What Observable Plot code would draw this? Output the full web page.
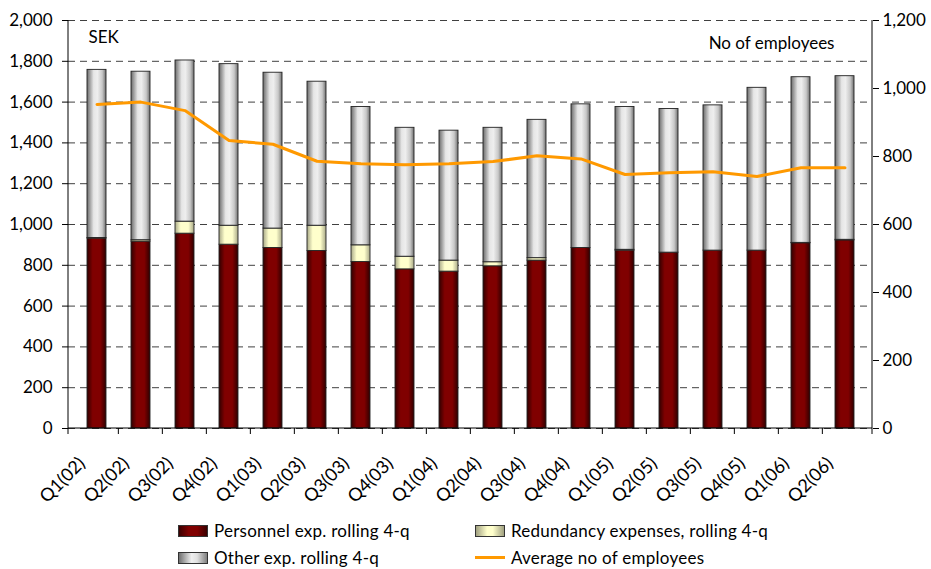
<!DOCTYPE html>
<html>
<head>
<meta charset="utf-8">
<script src="https://cdn.jsdelivr.net/npm/d3@7"></script>
<script src="https://cdn.jsdelivr.net/npm/@observablehq/plot@0.6"></script>
<style>
  body { margin: 0; background: #fff; font-family: Lato, "Open Sans", sans-serif; }
  #wrap { position: relative; width: 931px; height: 569px; }
  #legend { position: absolute; left: 0; top: 0; width: 931px; height: 569px; pointer-events: none; font-size: 17px; letter-spacing: 0.25px; color: #000; }
  .li { position: absolute; display: flex; align-items: center; white-space: nowrap; }
  .sw { width: 30px; height: 12px; border: 1px solid #333; box-sizing: border-box; margin-right: 6px; }
  .ln { width: 30px; height: 3px; background: #ff9900; margin-right: 6px; }
</style>
</head>
<body>
<div id="wrap">
  <div id="chart"></div>
  <div id="legend">
    <div class="li" style="left:178px; top:520px;"><div class="sw" style="background: linear-gradient(90deg,#3a0000,#800000 35%,#800000 65%,#3a0000);"></div>Personnel exp. rolling 4-q</div>
    <div class="li" style="left:475px; top:520px;"><div class="sw" style="background: linear-gradient(90deg,#a0a080,#ffffcc 40%,#ffffcc 60%,#a0a080);"></div>Redundancy expenses, rolling 4-q</div>
    <div class="li" style="left:178px; top:547px;"><div class="sw" style="background: linear-gradient(90deg,#707070,#f0f0f0 45%,#e0e0e0 65%,#808080);"></div>Other exp. rolling 4-q</div>
    <div class="li" style="left:475px; top:547px;"><div class="ln"></div>Average no of employees</div>
  </div>
</div>
<script>
const categories = ["Q1(02)","Q2(02)","Q3(02)","Q4(02)","Q1(03)","Q2(03)","Q3(03)","Q4(03)","Q1(04)","Q2(04)","Q3(04)","Q4(04)","Q1(05)","Q2(05)","Q3(05)","Q4(05)","Q1(06)","Q2(06)"];
const personnel  = [931, 916, 955, 901, 885, 870, 816, 780, 769, 795, 823, 885, 872, 862, 872, 872, 908, 922];
const redundancy = [3, 7, 59, 93, 95, 124, 82, 62, 54, 20, 12, 0, 4, 0, 0, 0, 2, 3];
const other      = [824, 826, 790, 792, 764, 706, 678, 632, 637, 659, 678, 704, 700, 704, 712, 798, 812, 802];
const employees  = [953, 960, 935, 847, 836, 786, 779, 776, 779, 785, 802, 793, 747, 752, 755, 741, 767, 767];
const seriesNames = ["Personnel exp. rolling 4-q", "Redundancy expenses, rolling 4-q", "Other exp. rolling 4-q"];
const leftTicks = [0, 200, 400, 600, 800, 1000, 1200, 1400, 1600, 1800, 2000];
const rightTicks = [0, 200, 400, 600, 800, 1000, 1200];
const leftMax = 2000, rightMax = 1200;
const toLeft = v => v * leftMax / rightMax;

const table = [];
categories.forEach((c, i) => {
  table.push({cat: c, series: seriesNames[0], value: personnel[i]});
  table.push({cat: c, series: seriesNames[1], value: redundancy[i]});
  table.push({cat: c, series: seriesNames[2], value: other[i]});
});
const emp = categories.map((c, i) => ({cat: c, value: employees[i]}));

const fmt = d3.format(",");
const chart = Plot.plot({
  width: 931,
  height: 510,
  marginLeft: 68,
  marginRight: 59,
  marginTop: 20,
  marginBottom: 82,
  style: {fontFamily: "Lato, sans-serif", fontSize: "17px", color: "#000", background: "#fff"},
  x: {domain: categories, paddingInner: 0.575, paddingOuter: 0.2875, label: null},
  y: {domain: [0, leftMax], label: null},
  color: {type: "ordinal", domain: seriesNames, range: ["url(#gPers)", "url(#gRed)", "url(#gOth)"]},
  marks: [
    Plot.gridY(leftTicks, {stroke: "#000", strokeOpacity: 0.75, strokeDasharray: "7,5", strokeWidth: 1}),
    Plot.axisY(leftTicks, {anchor: "left", tickSize: 6, tickPadding: 10, tickFormat: fmt, fontSize: 17}),
    Plot.axisY(rightTicks.map(toLeft), {anchor: "right", tickSize: 6, tickPadding: 4, tickFormat: d => fmt(Math.round(d * rightMax / leftMax)), fontSize: 17}),
    Plot.axisX({tickRotate: -45, tickSize: 0, tickPadding: 0, dx: -15, dy: 32, fontSize: 18}),
    Plot.barY(table, {x: "cat", y: "value", fill: "series", stroke: "#222", strokeWidth: 0.9}),
    Plot.line(emp, {x: "cat", y: d => toLeft(d.value), stroke: "#ff9900", strokeWidth: 3}),
    Plot.text(["SEK"], {frameAnchor: "top-left", dx: 20, dy: 10, fontSize: 17, textAnchor: "start"}),
    Plot.text(["No of employees"], {frameAnchor: "top-right", dx: -38, dy: 16, fontSize: 17, textAnchor: "end"})
  ]
});
document.getElementById("chart").appendChild(chart);

// gradients and frame lines drawn from the chart's scales
const svg = d3.select(chart);
const defs = svg.insert("defs", ":first-child");
function grad(id, stops) {
  const g = defs.append("linearGradient").attr("id", id).attr("x1", 0).attr("x2", 1).attr("y1", 0).attr("y2", 0);
  stops.forEach(([o, c]) => g.append("stop").attr("offset", o).attr("stop-color", c));
}
grad("gPers", [[0, "#300000"], [0.3, "#800000"], [0.7, "#800000"], [1, "#300000"]]);
grad("gRed", [[0, "#a8a888"], [0.3, "#ffffcc"], [0.7, "#ffffcc"], [1, "#a8a888"]]);
grad("gOth", [[0, "#6a6a6a"], [0.35, "#e6e6e6"], [0.55, "#eeeeee"], [0.8, "#c8c8c8"], [1, "#707070"]]);

const xs = chart.scale("x"), ys = chart.scale("y");
const [x0, x1] = xs.range;
const yb = ys.apply(0), yt = ys.apply(leftMax);
const g = svg.append("g").attr("stroke", "#000").attr("stroke-width", 1);
g.append("line").attr("x1", x0).attr("x2", x0).attr("y1", yt).attr("y2", yb);
g.append("line").attr("x1", x1).attr("x2", x1).attr("y1", yt).attr("y2", yb);
g.append("line").attr("x1", x0).attr("x2", x1).attr("y1", yb).attr("y2", yb);
const half = xs.step * xs.paddingInner / 2;
categories.forEach((c, i) => {
  const bx = i === 0 ? x0 : xs.apply(c) - half;
  g.append("line").attr("x1", bx).attr("x2", bx).attr("y1", yb).attr("y2", yb + 6);
});
g.append("line").attr("x1", x1).attr("x2", x1).attr("y1", yb).attr("y2", yb + 6);
</script>
</body>
</html>
